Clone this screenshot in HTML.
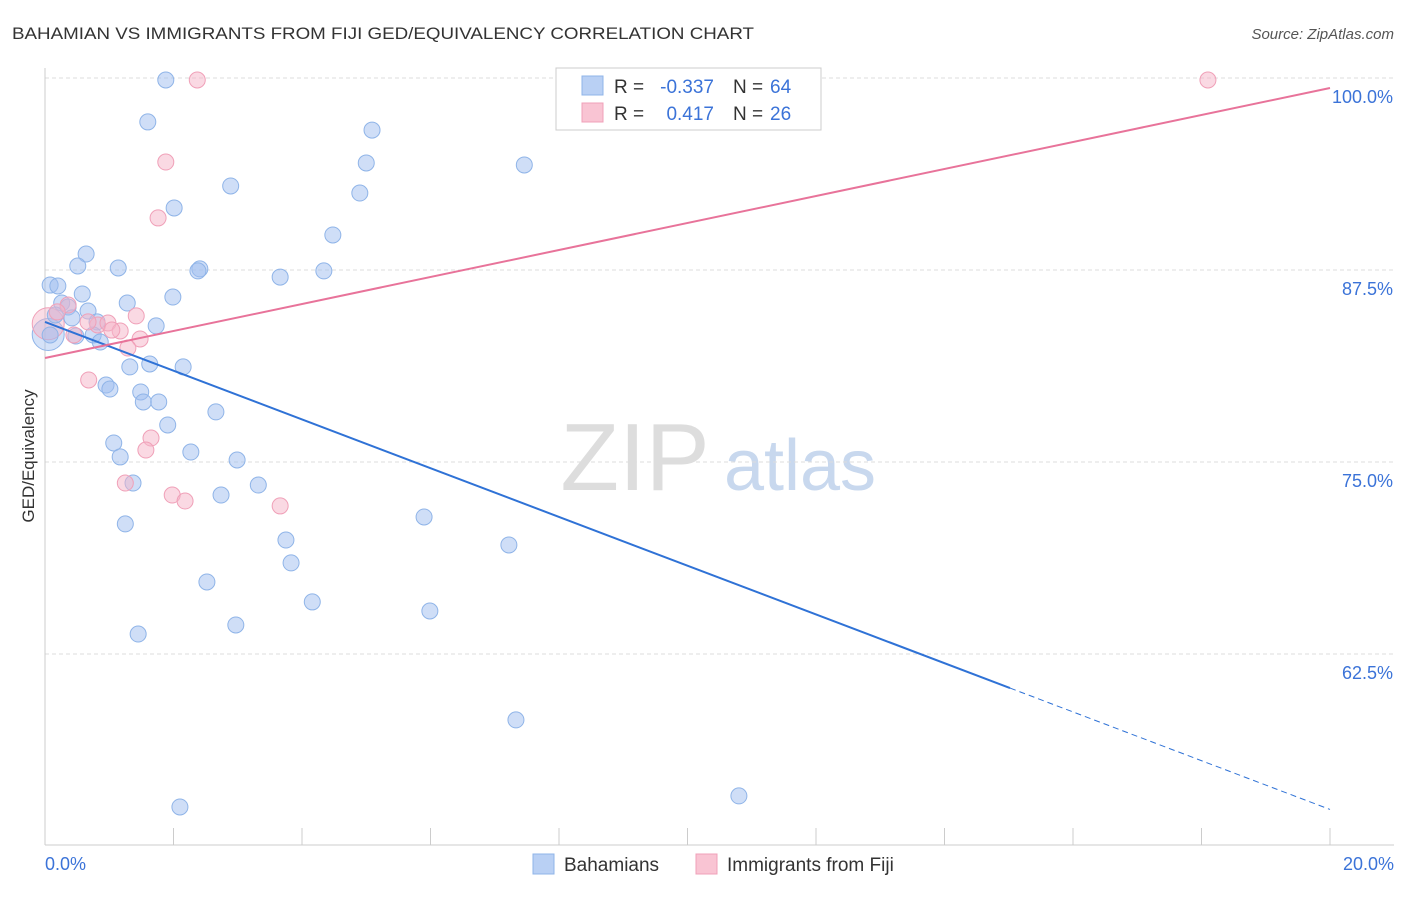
<!DOCTYPE html>
<html><head><meta charset="utf-8"><style>
body{margin:0;background:#fff;font-family:"Liberation Sans",sans-serif;}
svg text{font-family:"Liberation Sans",sans-serif;}
</style></head><body>
<svg id="chart" width="1406" height="892">
<text x="12" y="39" font-size="17" fill="#333" textLength="742" lengthAdjust="spacingAndGlyphs">BAHAMIAN VS IMMIGRANTS FROM FIJI GED/EQUIVALENCY CORRELATION CHART</text>
<text x="1394" y="39" font-size="15" fill="#555" font-style="italic" text-anchor="end">Source: ZipAtlas.com</text>
<text x="34" y="456" font-size="17" fill="#333" text-anchor="middle" transform="rotate(-90 34 456)">GED/Equivalency</text>
<g>
<text x="635" y="490" font-size="96" fill="#ddd" text-anchor="middle" font-family="Liberation Serif">ZIP</text>
<text x="800" y="490" font-size="72" fill="#c8d8ee" text-anchor="middle">atlas</text>
</g>
<g id="grid"></g>
<g id="axes"></g>
<g id="marks"></g>
<g>
<rect x="556" y="68" width="265" height="62" fill="#fff" stroke="#ccc"/>
<rect x="582" y="76" width="21" height="19" fill="#b9d0f4" stroke="#8fb4e8"/>
<text x="614" y="93" font-size="19" fill="#333">R =</text>
<text x="714" y="93" font-size="19" fill="#3b73d8" text-anchor="end">-0.337</text>
<text x="733" y="93" font-size="19" fill="#333">N =</text>
<text x="770" y="93" font-size="19" fill="#3b73d8">64</text>
<rect x="582" y="103" width="21" height="19" fill="#f9c4d3" stroke="#f0a0b8"/>
<text x="614" y="120" font-size="19" fill="#333">R =</text>
<text x="714" y="120" font-size="19" fill="#3b73d8" text-anchor="end">0.417</text>
<text x="733" y="120" font-size="19" fill="#333">N =</text>
<text x="770" y="120" font-size="19" fill="#3b73d8">26</text>
</g>
<g>
<rect x="533" y="854" width="21" height="20" fill="#b9d0f4" stroke="#8fb4e8"/>
<text x="564" y="871" font-size="19" fill="#333">Bahamians</text>
<rect x="696" y="854" width="21" height="20" fill="#f9c4d3" stroke="#f0a0b8"/>
<text x="727" y="871" font-size="19" fill="#333">Immigrants from Fiji</text>
</g>
</svg>
<script>
const yTicks=[62.5,75,87.5,100];
const yTickLabels=["62.5%","75.0%","87.5%","100.0%"];
const xTickLabels=["0.0%","20.0%"];
const blueX=[1.88,1.60,5.09,5.00,7.46,2.89,4.90,2.01,4.48,0.64,0.51,1.14,2.41,2.38,4.34,3.66,0.08,0.20,0.58,1.99,1.28,0.26,0.36,0.67,0.16,0.42,0.81,1.73,0.75,0.48,0.86,0.08,1.32,1.63,2.15,0.95,1.01,1.49,1.53,1.77,2.66,1.91,1.07,2.27,1.17,2.99,1.37,3.32,2.74,5.90,1.25,3.75,7.22,3.83,2.52,5.99,4.16,2.97,1.45,7.33,10.80,2.10];
const blueY=[99.87,97.14,96.61,94.47,94.34,92.97,92.51,91.54,89.78,88.54,87.76,87.63,87.57,87.44,87.44,87.04,86.52,86.46,85.94,85.74,85.35,85.35,85.09,84.83,84.57,84.38,84.12,83.86,83.27,83.20,82.81,83.27,81.19,81.38,81.19,80.01,79.75,79.56,78.91,78.91,78.26,77.41,76.24,75.65,75.33,75.13,73.63,73.50,72.85,71.42,70.97,69.92,69.60,68.43,67.19,65.30,65.89,64.39,63.80,58.21,53.26,52.54];
const pinkX=[2.37,18.10,1.88,1.76,1.42,0.82,0.98,1.17,1.48,0.45,1.29,0.36,0.68,1.65,1.57,1.25,1.98,2.18,3.66,0.67,1.04,0.19];
const pinkY=[99.87,99.87,94.53,90.89,84.51,83.92,84.05,83.53,83.01,83.27,82.42,85.22,80.34,76.56,75.78,73.63,72.85,72.46,72.14,84.12,83.59,84.77];
const blueLine=[84.12,-1.587];
const pinkLine=[81.77,0.879];
const NS="http://www.w3.org/2000/svg";
const X=v=>45+v/20*1285;
const Y=v=>78+(100-v)*15.36;
function mk(tag,attrs,parent){const e=document.createElementNS(NS,tag);for(const k in attrs)e.setAttribute(k,attrs[k]);document.getElementById(parent).appendChild(e);return e;}
yTicks.forEach((t,i)=>{
 const g=mk('line',{x1:45,x2:1394,y1:Y(t),y2:Y(t),stroke:'#ddd','stroke-dasharray':'4 3'},'grid');
 
 
 const l=mk('text',{x:1393,y:Y(t)+25,'font-size':18,fill:'#3b73d8','text-anchor':'end'},'grid');
 l.textContent=yTickLabels[i];
 
 
});
const ax=mk('line',{x1:45,x2:45,y1:68,y2:845,stroke:'#ccc'},'axes');


const bx=mk('line',{x1:45,x2:1394,y1:845,y2:845,stroke:'#ccc'},'axes');


for(let i=0;i<=10;i++){
 const t=mk('line',{x1:X(i*2),x2:X(i*2),y1:828,y2:845,stroke:'#ccc'},'axes');
 
 
}
[[0,'start',45],[20,'end',1394]].forEach((d,i)=>{
 const l=mk('text',{x:d[2],y:870,'font-size':18,fill:'#3b73d8','text-anchor':d[1]},'axes');
 l.textContent=xTickLabels[i];
 
 
});
const big1=mk('circle',{cx:X(0.05),cy:Y(83.3),r:16,fill:'rgba(160,190,240,0.45)',stroke:'#8fb4e8'},'marks');


const big2=mk('circle',{cx:X(0.05),cy:Y(84),r:16,fill:'rgba(245,180,200,0.45)',stroke:'#f0a0b8'},'marks');


blueX.forEach((x,i)=>{
 const c=mk('circle',{cx:X(x),cy:Y(blueY[i]),r:8,fill:'rgba(160,190,240,0.5)',stroke:'#8fb4e8','stroke-width':1},'marks');
 
 
});
pinkX.forEach((x,i)=>{
 const c=mk('circle',{cx:X(x),cy:Y(pinkY[i]),r:8,fill:'rgba(245,180,200,0.5)',stroke:'#f0a0b8','stroke-width':1},'marks');
 
 
});
const bl=v=>blueLine[0]+blueLine[1]*v, pl=v=>pinkLine[0]+pinkLine[1]*v;
const t1=mk('line',{x1:X(0),y1:Y(bl(0)),x2:X(15.02),y2:Y(bl(15.02)),stroke:'#2f72d6','stroke-width':2},'marks');


const t2=mk('line',{x1:X(15.02),y1:Y(bl(15.02)),x2:X(20),y2:Y(bl(20)),stroke:'#2f72d6','stroke-width':1,'stroke-dasharray':'6 4'},'marks');


const t3=mk('line',{x1:X(0),y1:Y(pl(0)),x2:X(20),y2:Y(pl(20)),stroke:'#e8739a','stroke-width':2},'marks');


</script>
</body></html>
